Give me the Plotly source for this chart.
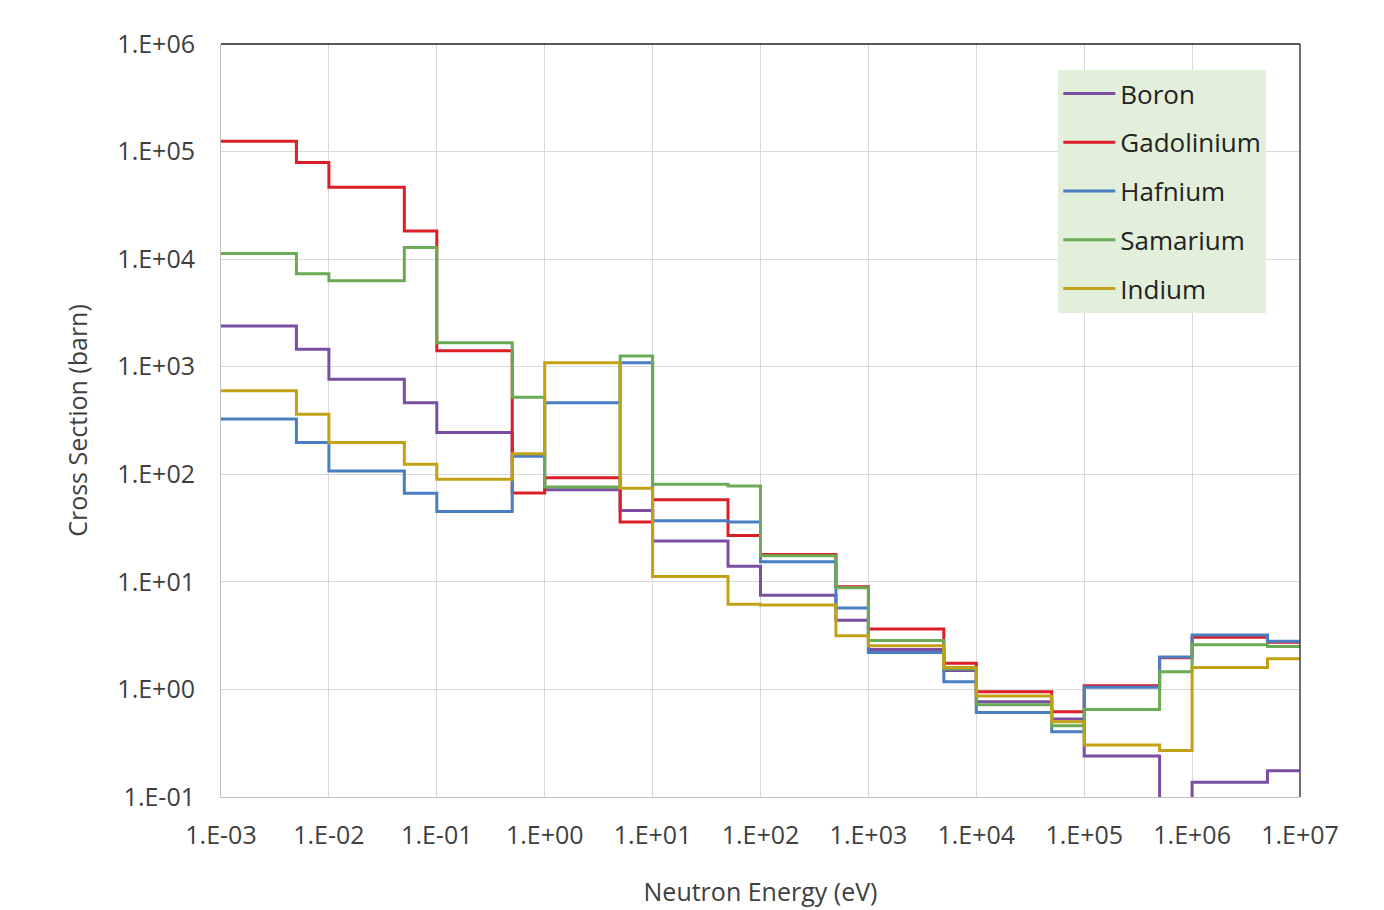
import plotly.graph_objects as go

# Group boundaries (eV)
energy_edges = [1e-3, 5e-3, 1e-2, 5e-2, 1e-1, 5e-1, 1e0, 5e0, 1e1, 5e1, 1e2,
                5e2, 1e3, 5e3, 1e4, 5e4, 1e5, 5e5, 1e6, 5e6, 1e7]

# Group cross sections (barn), one value per group (20 groups)
boron = [2390, 1450, 764, 462, 244, 150, 72, 46, 24, 14, 7.5, 4.4, 2.35, 1.5,
         0.77, 0.53, 0.24, 0.05, 0.137, 0.175]
gadolinium = [125000, 79000, 46500, 18300, 1410, 67, 93, 36, 58, 27, 18, 9.0,
              3.65, 1.75, 0.95, 0.62, 1.08, 1.97, 3.05, 2.75]
hafnium = [327, 197, 107, 66.5, 45, 147, 462, 1090, 37, 36, 15.4, 5.7, 2.2,
           1.18, 0.61, 0.405, 1.05, 2.0, 3.2, 2.8]
samarium = [11300, 7300, 6300, 12800, 1670, 519, 76, 1260, 81, 78, 17.5, 8.8,
            2.85, 1.55, 0.72, 0.46, 0.65, 1.46, 2.6, 2.5]
indium = [598, 361, 197, 124, 90, 155, 1090, 74, 11.2, 6.2, 6.1, 3.16, 2.55,
          1.6, 0.87, 0.50, 0.304, 0.27, 1.6, 1.93]

series = [
    ("Boron", boron, "#7B4DA3"),
    ("Gadolinium", gadolinium, "#DC1E26"),
    ("Hafnium", hafnium, "#4A7EC2"),
    ("Samarium", samarium, "#6BAA55"),
    ("Indium", indium, "#C2A214"),
]

x_tickvals = [1e-3, 1e-2, 1e-1, 1e0, 1e1, 1e2, 1e3, 1e4, 1e5, 1e6, 1e7]
x_ticktext = ["1.E-03", "1.E-02", "1.E-01", "1.E+00", "1.E+01", "1.E+02",
              "1.E+03", "1.E+04", "1.E+05", "1.E+06", "1.E+07"]
y_tickvals = [1e-1, 1e0, 1e1, 1e2, 1e3, 1e4, 1e5, 1e6]
y_ticktext = ["1.E-01", "1.E+00", "1.E+01", "1.E+02", "1.E+03", "1.E+04",
              "1.E+05", "1.E+06"]

fig = go.Figure()
for i, (name, vals, color) in enumerate(series):
    fig.add_trace(go.Scatter(
        x=energy_edges,
        y=vals + [vals[-1]],
        mode="lines",
        line=dict(shape="hv", color=color, width=3),
        name=name,
        legendgroup=name,
    ))

font_family = "Open Sans, Noto Sans, sans-serif"
fig.update_layout(
    width=1384, height=910,
    margin=dict(l=213, r=92, t=36, b=121),
    paper_bgcolor="white",
    plot_bgcolor="white",
    font=dict(family=font_family, color="#404040", size=24),
    showlegend=True,
    legend=dict(
        x=0.776, y=0.9655, xanchor="left", yanchor="top",
        bgcolor="#E2EFDA",
        font=dict(size=26, color="#222222"),
        traceorder="grouped",
        tracegroupgap=12,
        itemwidth=52,
        borderwidth=0,
    ),
)
fig.update_xaxes(
    type="log",
    range=[-3, 7],
    tickvals=x_tickvals, ticktext=x_ticktext,
    showgrid=True, gridcolor="#D9D9D9", gridwidth=1,
    showline=True, linecolor="#BFBFBF", linewidth=1,
    ticks="", ticklabelstandoff=16,
    tickfont=dict(size=25, color="#404040"),
    title=dict(text="Neutron Energy (eV)", font=dict(size=25, color="#404040"), standoff=33),
    zeroline=False,
    automargin=False,
)
fig.update_yaxes(
    type="log",
    range=[-1, 6],
    tickvals=y_tickvals, ticktext=y_ticktext,
    showgrid=True, gridcolor="#D9D9D9", gridwidth=1,
    showline=True, linecolor="#BFBFBF", linewidth=1,
    ticks="", ticklabelstandoff=20,
    tickfont=dict(size=25, color="#404040"),
    title=dict(text="Cross Section (barn)", font=dict(size=25, color="#404040"), standoff=22),
    zeroline=False,
    automargin=False,
)
# Top and right plot-area border
fig.add_shape(type="line", xref="paper", yref="paper", x0=0, x1=1, y0=1, y1=1,
              line=dict(color="#202020", width=1.5))
fig.add_shape(type="line", xref="paper", yref="paper", x0=1, x1=1, y0=0, y1=1,
              line=dict(color="#404040", width=1.5))

fig.write_html("out.html")
